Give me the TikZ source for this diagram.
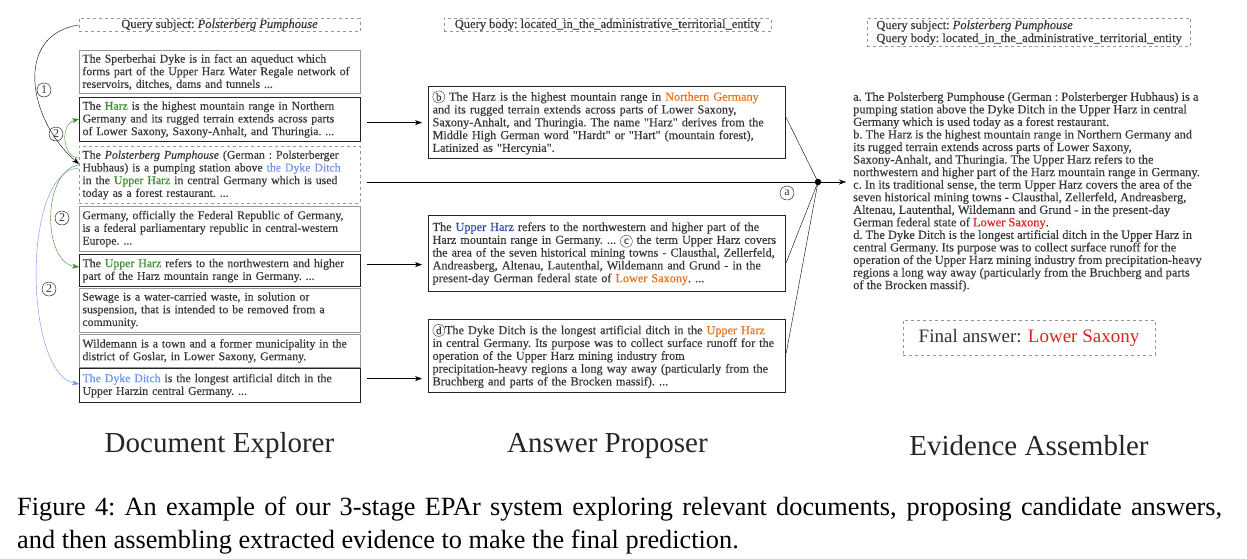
\documentclass[tikz,border=0pt]{standalone}
\usepackage{fontspec}
\setmainfont{Liberation Serif}
\newfontfamily\shadowserif{Liberation Serif}[FakeBold=0.35]
\usetikzlibrary{positioning, arrows.meta}

\definecolor{textgray}{RGB}{55,55,55}
\definecolor{boxgray}{RGB}{150,150,150}
\definecolor{boxblack}{RGB}{35,35,35}
\definecolor{hopgreen}{RGB}{60,140,45}
\definecolor{hopblue}{RGB}{110,145,235}
\definecolor{darkblue}{RGB}{45,70,170}
\definecolor{ansorange}{RGB}{225,115,30}
\definecolor{finalred}{RGB}{215,35,35}

\newcommand{\doctext}{\shadowserif\fontsize{11.8}{12.7}\selectfont\frenchspacing}
\newcommand{\anstext}{\shadowserif\fontsize{12.2}{12.8}\selectfont\frenchspacing}
\newcommand{\evtext}{\shadowserif\fontsize{12.4}{12.55}\selectfont\frenchspacing}
\newcommand{\querytext}{\shadowserif\fontsize{12.5}{13}\selectfont\frenchspacing}
\newcommand{\dq}{\textquotedbl}
\newcommand{\circnum}[1]{\tikz[baseline=(circ.base)]\node[draw, circle, minimum size=12pt, inner sep=0pt, font=\fontsize{11}{11}\selectfont] (circ) {#1};}

\tikzset{
  querybox/.style={draw=boxgray, dashed, line width=0.7pt, inner xsep=3pt, inner ysep=1pt, font=\querytext, text=textgray},
  docbox/.style={draw=boxgray, line width=0.9pt, anchor=north west, inner xsep=3pt, inner ysep=1pt,
    text width=275pt, align=left, font=\doctext, text=textgray},
  keybox/.style={docbox, draw=boxblack, line width=1.2pt},
  startbox/.style={docbox, dashed},
  ansbox/.style={docbox, draw=boxblack, line width=1.2pt, inner xsep=4pt, text width=349pt, font=\anstext},
  numlabel/.style={draw, circle, minimum size=14pt, inner sep=0pt, font=\fontsize{12}{12}\selectfont, text=textgray},
  passarrow/.style={->, shorten <=6pt, shorten >=6pt},
  stagelabel/.style={font=\fontsize{29}{29}\selectfont, text=black!85}
}

\begin{document}
\begin{tikzpicture}[x=1pt, y=-1pt, >={Stealth[length=7pt, width=5pt]}]
  \useasboundingbox (0,0) rectangle (1247,558);

  % Queries
  \node[querybox, minimum width=281pt] (qsubj) at (219.5,25) {Query subject: \textit{Polsterberg Pumphouse}};
  \node[querybox, minimum width=327pt] (qbody) at (607.5,25) {Query body: located\_in\_the\_administrative\_territorial\_entity};
  \node[querybox, anchor=north west, align=left, inner xsep=9pt, inner ysep=2pt] (qboth) at (867,18)
    {Query subject: \textit{Polsterberg Pumphouse}\\Query body: located\_in\_the\_administrative\_territorial\_entity};

  % Document Explorer
  \node[docbox, minimum height=43pt] (doc1) at (79,50)
    {The Sperberhai Dyke is in fact an aqueduct which\\forms part of the Upper Harz Water Regale network of\\reservoirs, ditches, dams and tunnels ...};
  \node[keybox, minimum height=44pt] (doc2) at (79,97)
    {The \textcolor{hopgreen}{Harz} is the highest mountain range in Northern\\Germany and its rugged terrain extends across parts\\of Lower Saxony, Saxony-Anhalt, and Thuringia. ...};
  \node[startbox, minimum height=57pt] (doc3) at (79,146)
    {The \textit{Polsterberg Pumphouse} (German : Polsterberger\\Hubhaus) is a pumping station above \textcolor{hopblue}{the Dyke Ditch}\\in the \textcolor{hopgreen}{Upper Harz} in central Germany which is used\\today as a forest restaurant. ...};
  \node[docbox, minimum height=45pt] (doc4) at (79,206)
    {Germany, officially the Federal Republic of Germany,\\is a federal parliamentary republic in central-western\\Europe. ...};
  \node[keybox, minimum height=32pt] (doc5) at (79,254)
    {The \textcolor{hopgreen}{Upper Harz} refers to the northwestern and higher\\part of the Harz mountain range in Germany. ...};
  \node[docbox, minimum height=44pt] (doc6) at (79,288)
    {Sewage is a water-carried waste, in solution or\\suspension, that is intended to be removed from a\\community.};
  \node[docbox, minimum height=33pt] (doc7) at (79,334)
    {Wildemann is a town and a former municipality in the\\district of Goslar, in Lower Saxony, Germany.};
  \node[keybox, minimum height=34pt] (doc8) at (79,368)
    {\textcolor{hopblue}{The Dyke Ditch} is the longest artificial ditch in the\\Upper Harzin central Germany. ...};

  % Hops of the explorer
  \draw[->] (qsubj.west) .. controls +(-65,10) and +(-51,-44) .. ([yshift=-18pt]doc3.north west);
  \node[numlabel] (hop1) at (44,90) {1};
  \draw[->, hopgreen] ([yshift=-12pt]doc3.north west) .. controls +(-17,0) and +(-19,5) .. ([yshift=-22pt]doc2.north west);
  \node[numlabel] (hop2a) at (56,134) {2};
  \draw[->, hopgreen] ([yshift=-19pt]doc3.north west) .. controls +(-37,5) and +(-37,-5) .. ([yshift=-13pt]doc5.north west);
  \node[numlabel] (hop2b) at (62,218) {2};
  \draw[->, hopblue] ([yshift=-22pt]doc3.north west) .. controls +(-58,2) and +(-55,-10) .. ([yshift=-16pt]doc8.north west);
  \node[numlabel] (hop2c) at (49,289) {2};

  % Answer Proposer
  \node[ansbox, minimum height=72pt] (ansb) at (428,86)
    {\circnum{b} The Harz is the highest mountain range in \textcolor{ansorange}{Northern Germany}\\and its rugged terrain extends across parts of Lower Saxony,\\Saxony-Anhalt, and Thuringia. The name \dq Harz\dq{} derives from the\\Middle High German word \dq Hardt\dq{} or \dq Hart\dq{} (mountain forest),\\Latinized as \dq Hercynia\dq.};
  \node[ansbox, minimum height=76pt] (ansc) at (428,215)
    {The \textcolor{darkblue}{Upper Harz} refers to the northwestern and higher part of the\\Harz mountain range in Germany. ... \circnum{c} the term Upper Harz covers\\the area of the seven historical mining towns - Clausthal, Zellerfeld,\\Andreasberg, Altenau, Lautenthal, Wildemann and Grund - in the\\present-day German federal state of \textcolor{ansorange}{Lower Saxony}. ...};
  \node[ansbox, minimum height=73pt] (ansd) at (428,319)
    {\circnum{d}The Dyke Ditch is the longest artificial ditch in the \textcolor{ansorange}{Upper Harz}\\in central Germany. Its purpose was to collect surface runoff for the\\operation of the Upper Harz mining industry from\\precipitation-heavy regions a long way away (particularly from the\\Bruchberg and parts of the Brocken massif). ...};

  \coordinate (d2out) at ([yshift=-3pt]doc2.east);
  \coordinate (d5out) at ([yshift=6pt]doc5.east);
  \coordinate (d8out) at ([yshift=7pt]doc8.east);
  \draw[passarrow] (d2out) -- (d2out -| ansb.west);
  \draw[passarrow] (d5out) -- (d5out -| ansc.west);
  \draw[passarrow] (d8out) -- (d8out -| ansd.west);

  % Evidence Assembler
  \node[fill, circle, inner sep=2.3pt] (join) at (818,182) {};
  \coordinate (evin) at (846,182);
  \draw[shorten <=6pt] (doc3.east |- join) -- (join.center);
  \node[numlabel] (hopa) at (787,193) {a};
  \draw ([yshift=5pt]ansb.east) -- (join.center);
  \draw ([yshift=-9pt]ansc.east) -- (join.center);
  \draw ([yshift=3pt]ansd.east) -- (join.center);
  \draw[->] (join.center) -- (evin);

  \node[anchor=north west, align=left, inner sep=0pt, font=\evtext, text=textgray] (evid) at (853,92)
    {a. The Polsterberg Pumphouse (German : Polsterberger Hubhaus) is a\\
     pumping station above the Dyke Ditch in the Upper Harz in central\\
     Germany which is used today as a forest restaurant.\\
     b. The Harz is the highest mountain range in Northern Germany and\\
     its rugged terrain extends across parts of Lower Saxony,\\
     Saxony-Anhalt, and Thuringia. The Upper Harz refers to the\\
     northwestern and higher part of the Harz mountain range in Germany.\\
     c. In its traditional sense, the term Upper Harz covers the area of the\\
     seven historical mining towns - Clausthal, Zellerfeld, Andreasberg,\\
     Altenau, Lautenthal, Wildemann and Grund - in the present-day\\
     German federal state of \textcolor{finalred}{Lower Saxony}.\\
     d. The Dyke Ditch is the longest artificial ditch in the Upper Harz in\\
     central Germany. Its purpose was to collect surface runoff for the\\
     operation of the Upper Harz mining industry from precipitation-heavy\\
     regions a long way away (particularly from the Bruchberg and parts\\
     of the Brocken massif).};

  \node[draw=boxgray, dashed, line width=0.7pt, minimum width=252pt, minimum height=35pt,
        font=\fontsize{19}{19}\selectfont, text=black!80] (final) at (1029,337.5)
    {Final answer: \textcolor{finalred}{Lower Saxony}};

  % Stages
  \node[stagelabel] (explorer) at (219.5,446) {Document Explorer};
  \node[stagelabel] (proposer) at (607.5,446) {Answer Proposer};
  \node[stagelabel] (assembler) at (1029,446) {Evidence Assembler};

  \node[anchor=north west, align=left, inner sep=0pt, font=\fontsize{26.3}{33}\selectfont] (caption) at (17,497)
    {\makebox[1205pt][s]{Figure 4:\ An example of our 3-stage EPAr system exploring relevant documents, proposing candidate answers,}\\
     and then assembling extracted evidence to make the final prediction.};
\end{tikzpicture}
\end{document}
